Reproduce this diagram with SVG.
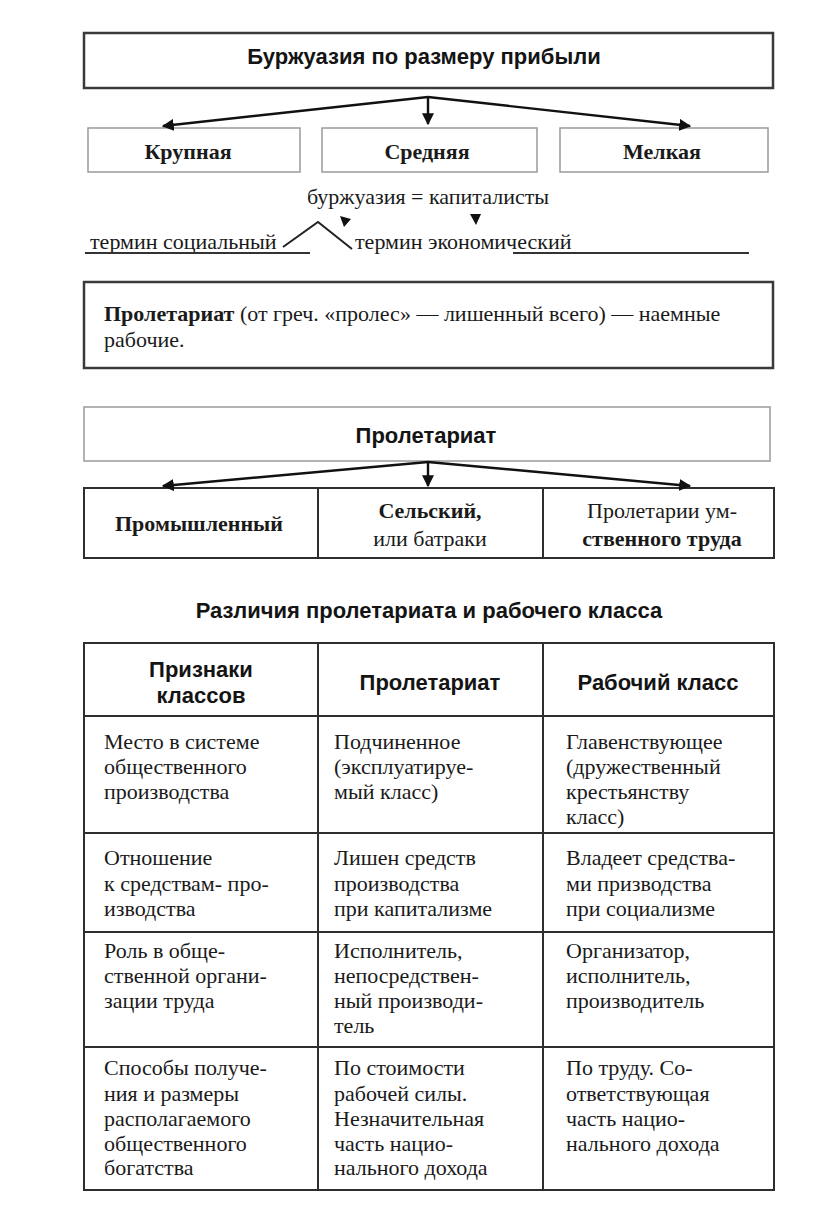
<svg xmlns="http://www.w3.org/2000/svg" width="816" height="1214" viewBox="0 0 816 1214">
<defs>
<marker id="ah" viewBox="0 0 10 10" refX="9" refY="5" markerWidth="5" markerHeight="5" orient="auto" markerUnits="strokeWidth">
<path d="M0,0 L10,5 L0,10 z" fill="#111"/>
</marker>
<style>
.sans{font-family:"Liberation Sans",Arial,sans-serif;fill:#141414;font-weight:bold}
.serif{font-family:"Liberation Serif","Times New Roman",serif;fill:#1a1a1a}
.b{font-weight:bold}
.thick{fill:#fff;stroke:#3a3a3a;stroke-width:2.5}
.thin{fill:#fff;stroke:#9a9a9a;stroke-width:1.5}
.conn{stroke:#111;stroke-width:2.4;fill:none}
.grid{stroke:#2e2e2e;stroke-width:2;fill:none}
.cell{font-size:22px}
</style>
</defs>
<rect width="816" height="1214" fill="#fff"/>

<g id="bourgeoisie">
<rect class="thick" x="84" y="33" width="689" height="55"/>
<text class="sans" x="424" y="64" font-size="22" text-anchor="middle">Буржуазия по размеру прибыли</text>
</g>
<g id="krupnaya">
<rect class="thin" x="88" y="128" width="212" height="44"/>
<text class="serif b" x="188" y="159" font-size="22" text-anchor="middle">Крупная</text>
</g>
<g id="srednyaya">
<rect class="thin" x="322" y="128" width="215" height="44"/>
<text class="serif b" x="427" y="159" font-size="22" text-anchor="middle">Средняя</text>
</g>
<g id="melkaya">
<rect class="thin" x="560" y="128" width="208" height="44"/>
<text class="serif b" x="662" y="159" font-size="22" text-anchor="middle">Мелкая</text>
</g>

<g id="terms">
<text class="serif" x="428" y="204" font-size="22" text-anchor="middle">буржуазия = капиталисты</text>
<text class="serif" x="90" y="249" font-size="22">термин социальный</text>
<text class="serif" x="355" y="249" font-size="22">термин экономический</text>
<line x1="85" y1="253" x2="310" y2="253" stroke="#333" stroke-width="2"/>
<line x1="513" y1="253" x2="749" y2="253" stroke="#333" stroke-width="2"/>
<polyline points="283,247 318,222 352,249" fill="none" stroke="#222" stroke-width="2"/>
<path d="M340,216 L351,219 L344,227 z" fill="#111"/>
<path d="M470,214 L481,214 L476,225 z" fill="#111"/>
</g>

<g id="definition">
<rect class="thick" x="84" y="282" width="689" height="86"/>
<text class="serif" x="104" y="321" font-size="22"><tspan class="b">Пролетариат</tspan> (от греч. «пролес» — лишенный всего) — наемные</text>
<text class="serif" x="104" y="347" font-size="22">рабочие.</text>
</g>

<g id="proletariat">
<rect class="thin" x="84" y="407" width="686" height="54"/>
<text class="sans" x="426" y="443" font-size="22" text-anchor="middle">Пролетариат</text>
</g>
<g id="types">
<rect class="grid" x="84" y="488" width="690" height="70"/>
<line class="grid" x1="318" y1="488" x2="318" y2="558"/>
<line class="grid" x1="543" y1="488" x2="543" y2="558"/>
</g>
<g id="promyshlenny">
<text class="serif b" x="199" y="531" font-size="22" text-anchor="middle">Промышленный</text>
</g>
<g id="selsky">
<text class="serif b" x="430" y="518" font-size="22" text-anchor="middle">Сельский,</text>
<text class="serif" x="430" y="546" font-size="22" text-anchor="middle">или батраки</text>
</g>
<g id="umstvenny">
<text class="serif" x="662" y="518" font-size="22" text-anchor="middle">Пролетарии ум-</text>
<text class="serif b" x="662" y="546" font-size="22" text-anchor="middle">ственного труда</text>
</g>

<g id="connectors">
<line class="conn" x1="428" y1="97" x2="163" y2="126" marker-end="url(#ah)"/>
<line class="conn" x1="428" y1="97" x2="428" y2="124" marker-end="url(#ah)"/>
<line class="conn" x1="428" y1="97" x2="690" y2="126" marker-end="url(#ah)"/>
<line class="conn" x1="428" y1="462" x2="163" y2="486" marker-end="url(#ah)"/>
<line class="conn" x1="428" y1="462" x2="428" y2="486" marker-end="url(#ah)"/>
<line class="conn" x1="428" y1="462" x2="690" y2="486" marker-end="url(#ah)"/>
</g>

<g id="table">
<text class="sans" x="429" y="618" font-size="22" text-anchor="middle">Различия пролетариата и рабочего класса</text>
<rect class="grid" x="84" y="643" width="690" height="547"/>
<line class="grid" x1="318" y1="643" x2="318" y2="1190"/>
<line class="grid" x1="543" y1="643" x2="543" y2="1190"/>
<line class="grid" x1="84" y1="716" x2="774" y2="716"/>
<line class="grid" x1="84" y1="833" x2="774" y2="833"/>
<line class="grid" x1="84" y1="932" x2="774" y2="932"/>
<line class="grid" x1="84" y1="1047" x2="774" y2="1047"/>

<text class="sans" x="201" y="677" font-size="22" text-anchor="middle">Признаки</text>
<text class="sans" x="201" y="703" font-size="22" text-anchor="middle">классов</text>
<text class="sans" x="430" y="690" font-size="22" text-anchor="middle">Пролетариат</text>
<text class="sans" x="658" y="690" font-size="22" text-anchor="middle">Рабочий класс</text>

<g class="serif cell">
<text x="104" y="749">Место в системе</text>
<text x="104" y="774">общественного</text>
<text x="104" y="799">производства</text>
<text x="334" y="749">Подчиненное</text>
<text x="334" y="774">(эксплуатируе-</text>
<text x="334" y="799">мый класс)</text>
<text x="566" y="749">Главенствующее</text>
<text x="566" y="774">(дружественный</text>
<text x="566" y="799">крестьянству</text>
<text x="566" y="824">класс)</text>

<text x="104" y="865">Отношение</text>
<text x="104" y="891">к средствам- про-</text>
<text x="104" y="916">изводства</text>
<text x="334" y="865">Лишен средств</text>
<text x="334" y="891">производства</text>
<text x="334" y="916">при капитализме</text>
<text x="566" y="865">Владеет средства-</text>
<text x="566" y="891">ми призводства</text>
<text x="566" y="916">при социализме</text>

<text x="104" y="958">Роль в обще-</text>
<text x="104" y="983">ственной органи-</text>
<text x="104" y="1008">зации труда</text>
<text x="334" y="958">Исполнитель,</text>
<text x="334" y="983">непосредствен-</text>
<text x="334" y="1008">ный производи-</text>
<text x="334" y="1033">тель</text>
<text x="566" y="958">Организатор,</text>
<text x="566" y="983">исполнитель,</text>
<text x="566" y="1008">производитель</text>

<text x="104" y="1075">Способы получе-</text>
<text x="104" y="1101">ния и размеры</text>
<text x="104" y="1126">располагаемого</text>
<text x="104" y="1151">общественного</text>
<text x="104" y="1175">богатства</text>
<text x="334" y="1075">По стоимости</text>
<text x="334" y="1101">рабочей силы.</text>
<text x="334" y="1126">Незначительная</text>
<text x="334" y="1151">часть нацио-</text>
<text x="334" y="1175">нального дохода</text>
<text x="566" y="1075">По труду. Со-</text>
<text x="566" y="1101">ответствующая</text>
<text x="566" y="1126">часть нацио-</text>
<text x="566" y="1151">нального дохода</text>
</g>
</g>
</svg>
